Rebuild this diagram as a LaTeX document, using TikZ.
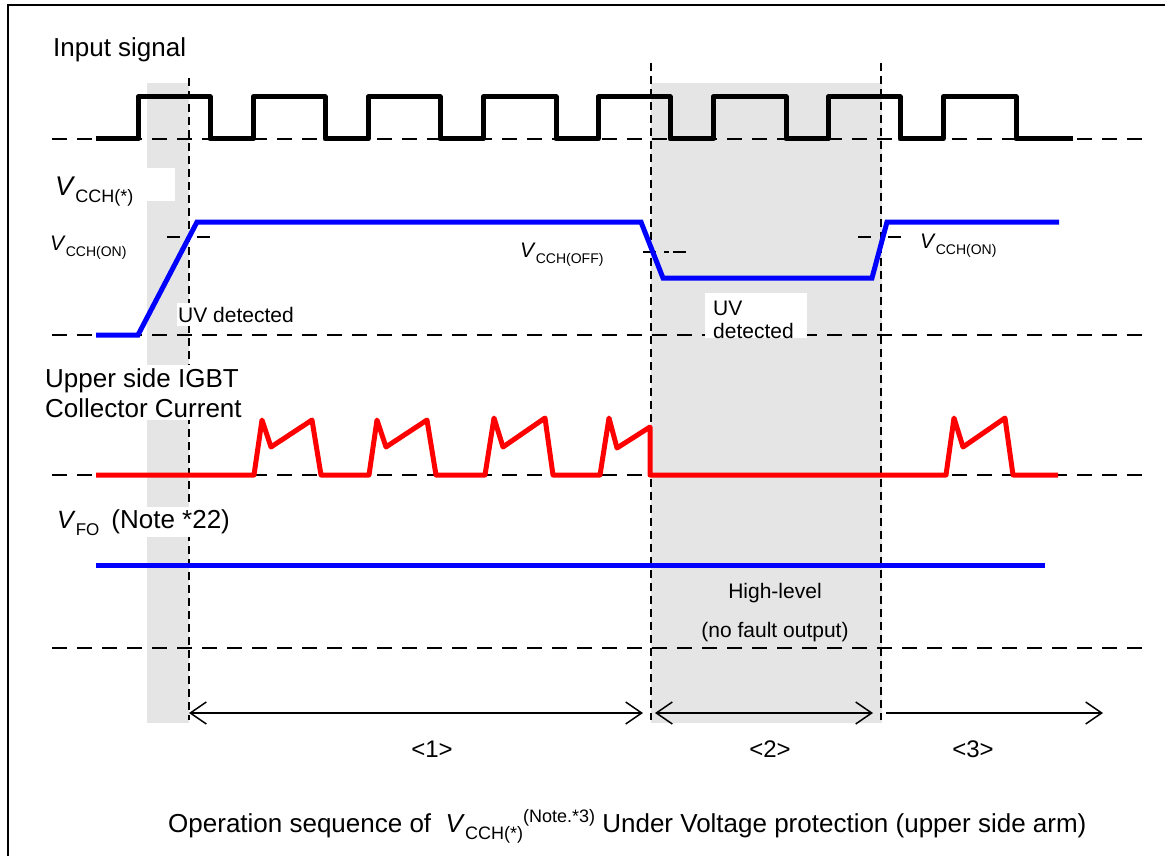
\documentclass[tikz,border=0pt]{standalone}
\usepackage{fontspec}
\setmainfont{Liberation Sans}
\usetikzlibrary{arrows.meta}
\definecolor{shadegray}{RGB}{229,229,229}
\newcommand{\fsz}[1]{\fontsize{#1}{#1}\selectfont}
\newcommand{\lowtxt}[3]{\raisebox{#2}{\fsz{#1}#3}}
\begin{document}
\begin{tikzpicture}[x=1pt,y=-1pt,
  basedash/.style={line width=1.8pt,dash pattern=on 15pt off 10pt},
  guide/.style={line width=1.7pt,dash pattern=on 8pt off 5pt},
  thresh/.style={line width=1.5pt,dash pattern=on 13pt off 17pt},
  threshoff/.style={line width=1.5pt,dash pattern=on 13pt off 8pt on 5pt off 4pt},
  sigline/.style={draw=black,line width=5pt,line join=round},
  vline/.style={draw=blue,line width=5pt},
  iline/.style={draw=red,line width=5pt,line join=round},
  shaded/.style={fill=shadegray},
  mask/.style={fill=white},
  span/.style={line width=1.5pt},
  txt/.style={inner sep=0pt,anchor=base west,font=\fsz{26}},
  smalltxt/.style={inner sep=0pt,anchor=base west,font=\fsz{21}},
  ctxt/.style={inner sep=0pt,anchor=base,font=\fsz{21}},
  >={Straight Barb[length=16pt,width=22pt]}
]
\useasboundingbox (0,0) rectangle (1165,856);
\clip (0,0) rectangle (1165,856);
\fill[white] (0,0) rectangle (1165,856);
\draw[line width=2pt] (8,5) rectangle (1185,880);

% shaded intervals
\fill[shaded] (147,83) rectangle (189,723);
\fill[shaded] (651,83) rectangle (882,723);

% zero-level dashed baselines
\foreach \yy in {139,335,475,648}
  \draw[basedash] (52,\yy) -- (1145,\yy);

% vertical guides
\coordinate (g1t) at (189,78);  \coordinate (g1b) at (189,720);
\coordinate (g2t) at (651,63);  \coordinate (g2b) at (651,720);
\coordinate (g3t) at (881,63);  \coordinate (g3b) at (881,720);
\draw[guide] (g1t) -- (g1b);
\draw[guide] (g2t) -- (g2b);
\draw[guide] (g3t) -- (g3b);

% white patches behind labels
\fill[mask] (147,168) rectangle (175,201);
\fill[mask] (705,293) rectangle (807,338);

% labels
\node[txt] (insig) at (53,57) {Input signal};
\node[txt] (vcch) at (55,195) {\fsz{27}\textit{V}\lowtxt{18}{-7pt}{CCH(*)}};
\node[smalltxt] (vonl) at (50,250) {\textit{V}\lowtxt{14}{-6pt}{CCH(ON)}};
\node[smalltxt] (voff) at (520,257) {\textit{V}\lowtxt{14}{-6pt}{CCH(OFF)}};
\node[smalltxt] (vonr) at (920,248) {\textit{V}\lowtxt{14}{-6pt}{CCH(ON)}};
\node[smalltxt,fill=white,inner xsep=1pt,inner ysep=4pt] (uv1) at (177,322) {UV detected};
\node[smalltxt] (uv2a) at (713,315) {UV};
\node[smalltxt] (uv2b) at (713,338) {detected};
\node[txt,fill=white,inner ysep=3pt] (ig1) at (45,387) {Upper side IGBT};
\node[txt,fill=white,inner ysep=3pt] (ig2) at (45,417) {Collector Current};
\node[txt,fill=white,inner ysep=2pt] (vfo) at (57,528) {\fsz{25}\textit{V}\lowtxt{17}{-7pt}{FO}\hspace{12pt}\fsz{26}(Note *22)};
\node[ctxt] (hl1) at (775,598) {High-level};
\node[ctxt] (hl2) at (775,637) {(no fault output)};

% threshold markers
\draw[thresh] (167,237) -- (210,237);
\draw[thresh] (858,237) -- (901,237);
\draw[threshoff] (643,252) -- (686,252);

% input signal
\draw[sigline] (96,139) -- (138,139) -- (138,97) -- (210,97) -- (210,139)
  -- (253,139) -- (253,97) -- (325,97) -- (325,139)
  -- (368,139) -- (368,97) -- (440,97) -- (440,139)
  -- (483,139) -- (483,97) -- (556,97) -- (556,139)
  -- (598,139) -- (598,97) -- (670,97) -- (670,139)
  -- (713,139) -- (713,97) -- (786,97) -- (786,139)
  -- (828,139) -- (828,97) -- (900,97) -- (900,139)
  -- (943,139) -- (943,97) -- (1016,97) -- (1016,139) -- (1073,139);

% VCCH
\draw[vline] (96,335) -- (138,335) -- (197,222) -- (641,222) -- (663,278)
  -- (872,278) -- (887,222) -- (1059,222);

% collector current
\draw[iline] (96,475) -- (254,475) -- (262,420) -- (271,447) -- (312,420) -- (321,475)
  -- (369,475) -- (377,420) -- (386,447) -- (427,420) -- (436,475)
  -- (485,475) -- (494,418) -- (503,447) -- (545,418) -- (553,475)
  -- (600,475) -- (609,418) -- (617,448) -- (650,427) -- (650,475)
  -- (946,475) -- (954,418) -- (963,447) -- (1005,418) -- (1013,475) -- (1058,475);

% VFO
\draw[vline] (96,565) -- (1045,565);

% interval arrows
\coordinate (a1l) at (189,713); \coordinate (a1r) at (643,713);
\coordinate (a2l) at (655,713); \coordinate (a2r) at (873,713);
\coordinate (a3l) at (886,713); \coordinate (a3r) at (1103,713);
\draw[span,<->] (a1l) -- (a1r);
\draw[span,<->] (a2l) -- (a2r);
\draw[span,->] (a3l) -- (a3r);
\node[ctxt,font=\fsz{24}] (p1) at (432,757) {<1>};
\node[ctxt,font=\fsz{24}] (p2) at (770,757) {<2>};
\node[ctxt,font=\fsz{24}] (p3) at (973,757) {<3>};

% caption
\node[txt] (cap) at (168,832) {Operation sequence of \ \textit{V}\lowtxt{18}{-7pt}{CCH(*)}\lowtxt{18}{10pt}{(Note.*3)} Under Voltage protection (upper side arm)};
\end{tikzpicture}
\end{document}
